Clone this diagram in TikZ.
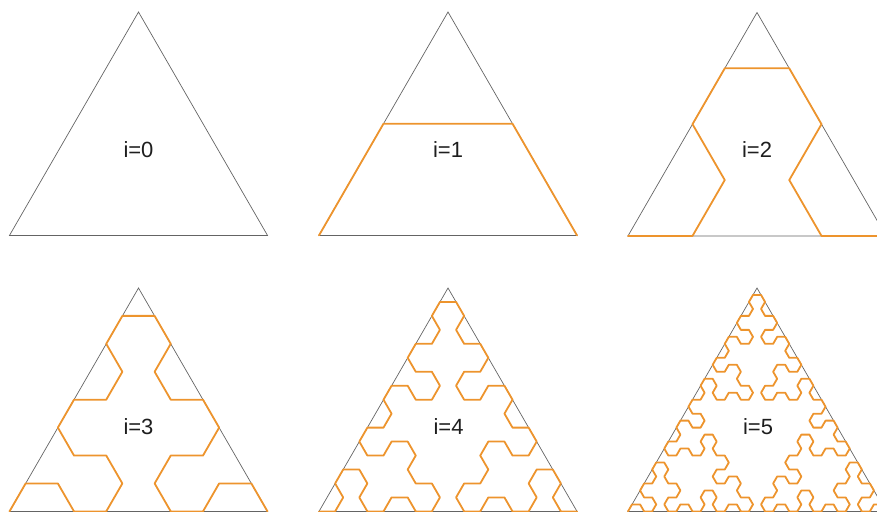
\documentclass[tikz,border=0pt]{standalone}
\usepackage{fontspec}
\setmainfont{Liberation Sans}
\usetikzlibrary{lindenmayersystems}
\pgfdeclarelindenmayersystem{arrowhead}{
  \symbol{A}{\pgflsystemdrawforward}
  \symbol{B}{\pgflsystemdrawforward}
  \rule{A -> B-A-B}
  \rule{B -> A+B+A}
}
\definecolor{curveorange}{RGB}{237,148,45}
\definecolor{edgegray}{RGB}{100,100,100}
\definecolor{labtext}{RGB}{30,30,30}
\begin{document}
\begin{tikzpicture}[x=1pt,y=-1pt,
  tri/.style={draw=edgegray, line width=0.7pt, line join=miter},
  curve/.style={draw=curveorange, line width=1.8pt, line join=round, line cap=round},
  lab/.style={font=\fontsize{22}{26}\selectfont, text=labtext, inner sep=0pt}]
\useasboundingbox (0,0) rectangle (877,511);
\clip (0,0) rectangle (877,511);
% triangles
\foreach \ax/\ay in {138.5/12, 448/12, 757/12.5, 138.5/288, 448/288, 757/288}{
  \draw[tri] (\ax,\ay) -- (\ax+129,\ay+223.4) -- (\ax-129,\ay+223.4) -- cycle;
}
% curves
\begin{scope}[shift={(319,235.4)}]
  \draw[curve, l-system={arrowhead, axiom=+A, order=1, step=129pt, angle=60}] (0,0) lindenmayer system;
\end{scope}
\begin{scope}[shift={(628,235.9)}]
  \draw[curve, l-system={arrowhead, axiom=A, order=2, step=64.5pt, angle=60}] (0,0) lindenmayer system;
\end{scope}
\begin{scope}[shift={(9.5,511.4)}]
  \draw[curve, l-system={arrowhead, axiom=+A, order=3, step=32.25pt, angle=60}] (0,0) lindenmayer system;
\end{scope}
\begin{scope}[shift={(319,511.4)}]
  \draw[curve, l-system={arrowhead, axiom=A, order=4, step=16.125pt, angle=60}] (0,0) lindenmayer system;
\end{scope}
\begin{scope}[shift={(628,511.4)}]
  \draw[curve, l-system={arrowhead, axiom=+A, order=5, step=8.0625pt, angle=60}] (0,0) lindenmayer system;
\end{scope}
% labels
\node[lab] (l0) at (138.5,149.5) {i=0};
\node[lab] (l1) at (448,149.5) {i=1};
\node[lab] (l2) at (757,149.5) {i=2};
\node[lab] (l3) at (138.5,426.5) {i=3};
\node[lab] (l4) at (448.5,426.5) {i=4};
\node[lab] (l5) at (758,426.5) {i=5};
\end{tikzpicture}
\end{document}
